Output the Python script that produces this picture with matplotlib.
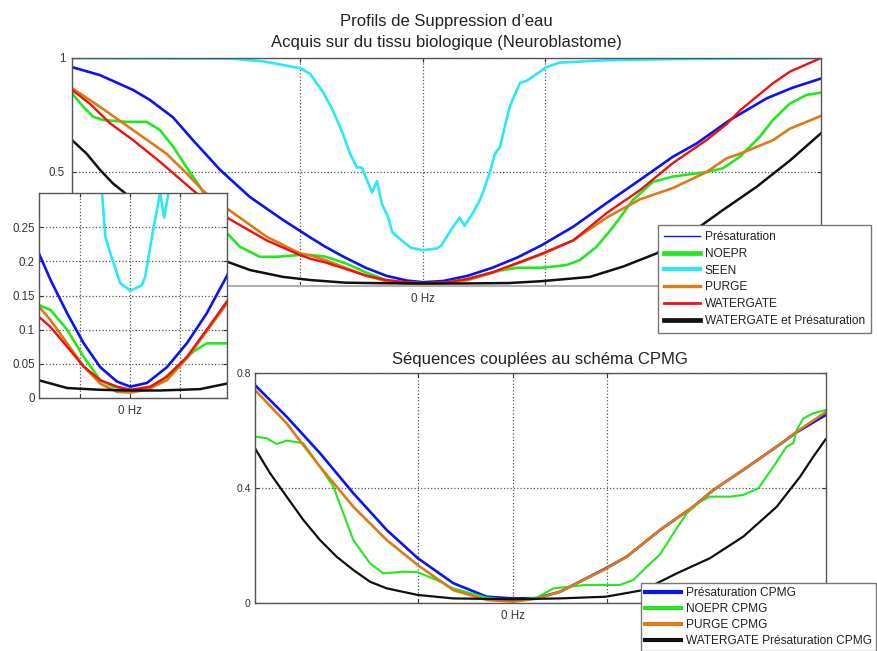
import matplotlib
matplotlib.use("Agg")
import matplotlib.pyplot as plt
from matplotlib.lines import Line2D

plt.rcParams["font.family"] = ["Liberation Sans", "DejaVu Sans"]

# ---------------------------------------------------------------------------
# Water suppression profiles on biological tissue (frequency offset in Hz)
# ---------------------------------------------------------------------------
presat_f = [-2865, -2637, -2367, -2229, -2041, -1878, -1657, -1412, -1143, -917,
            -800, -633, -467, -300, -133, 0, 167, 367, 567, 767, 967, 1227,
            1500, 1771, 2041, 2234, 2506, 2806, 3020, 3250]
presat_v = [0.96, 0.925, 0.86, 0.816, 0.74, 0.64, 0.51, 0.39, 0.29, 0.212,
            0.173, 0.124, 0.08, 0.045, 0.024, 0.0166, 0.022, 0.045, 0.08, 0.124,
            0.178, 0.26, 0.364, 0.465, 0.567, 0.625, 0.728, 0.823, 0.87, 0.91]

noepr_f = [-2865, -2773, -2692, -2610, -2419, -2256, -2147, -2038, -1929, -1820,
           -1600, -1494, -1331, -1194, -1004, -917, -800, -633, -467, -300,
           -167, 0, 167, 333, 500, 633, 767, 967, 1173, 1282, 1418, 1554, 1714,
           1878, 2041, 2316, 2449, 2588, 2751, 2857, 2996, 3132, 3250]
noepr_v = [0.845, 0.786, 0.742, 0.728, 0.72, 0.72, 0.684, 0.61, 0.52, 0.435,
           0.232, 0.172, 0.128, 0.128, 0.136, 0.136, 0.129, 0.10, 0.06, 0.026,
           0.0166, 0.012, 0.013, 0.028, 0.05, 0.068, 0.08, 0.08, 0.092, 0.114,
           0.172, 0.26, 0.377, 0.457, 0.48, 0.50, 0.516, 0.567, 0.655, 0.728,
           0.80, 0.838, 0.848]

seen_f = [-2865, -1550, -1300, -1000, -920, -815, -735, -655, -595, -540, -500,
          -415, -375, -335, -283, -250, -200, -100, 0, 117, 150, 233, 300, 340,
          383, 408, 465, 490, 547, 588, 629, 669, 710, 792, 847, 1010, 1118,
          1500, 2000, 3250]
seen_v = [1.0, 0.997, 0.985, 0.955, 0.93, 0.85, 0.77, 0.67, 0.58, 0.52, 0.52,
          0.41, 0.46, 0.36, 0.30, 0.236, 0.212, 0.168, 0.157, 0.165, 0.178,
          0.249, 0.30, 0.264, 0.30, 0.32, 0.377, 0.41, 0.50, 0.58, 0.61, 0.70,
          0.79, 0.89, 0.90, 0.96, 0.98, 0.99, 0.995, 1.0]

purge_f = [-2865, -2637, -2367, -2093, -1929, -1788, -1600, -1276, -1004, -917,
           -800, -633, -467, -300, -133, 0, 167, 367, 567, 767, 967, 1227, 1500,
           1771, 2043, 2316, 2479, 2588, 2860, 2996, 3250]
purge_v = [0.868, 0.786, 0.684, 0.58, 0.494, 0.414, 0.34, 0.216, 0.143, 0.134,
           0.114, 0.08, 0.046, 0.021, 0.009, 0.008, 0.012, 0.026, 0.058, 0.098,
           0.138, 0.20, 0.30, 0.38, 0.43, 0.50, 0.56, 0.58, 0.64, 0.69, 0.746]

watergate_f = [-2865, -2720, -2555, -2367, -2147, -1878, -1600, -1276, -1004,
               -917, -800, -633, -467, -300, -133, 0, 200, 367, 567, 767, 967,
               1227, 1500, 1771, 2043, 2316, 2479, 2588, 2860, 2996, 3250]
watergate_v = [0.86, 0.80, 0.714, 0.64, 0.545, 0.42, 0.30, 0.20, 0.136, 0.119,
               0.104, 0.075, 0.046, 0.026, 0.0166, 0.012, 0.0166, 0.031, 0.06,
               0.10, 0.141, 0.20, 0.32, 0.42, 0.54, 0.64, 0.71, 0.77, 0.89,
               0.94, 1.0]

wg_presat_f = [-2865, -2745, -2637, -2531, -2447, -2000, -1600, -1412, -1143,
               -917, -633, -300, 0, 300, 700, 967, 1363, 1633, 1908, 2180, 2449,
               2724, 2996, 3250]
wg_presat_v = [0.64, 0.58, 0.51, 0.45, 0.414, 0.22, 0.107, 0.07, 0.04, 0.026,
               0.0146, 0.012, 0.011, 0.011, 0.013, 0.021, 0.04, 0.085, 0.143,
               0.23, 0.333, 0.435, 0.55, 0.67]

# ---------------------------------------------------------------------------
# Sequences coupled with the CPMG scheme
# ---------------------------------------------------------------------------
presat_cpmg_f = [-2727, -2392, -2039, -1687, -1333, -1005, -629, -275, 0, 254,
                 500, 987, 1206, 1559, 1911, 2123, 2440, 2794, 3005, 3312]
presat_cpmg_v = [0.759, 0.649, 0.522, 0.383, 0.255, 0.157, 0.07, 0.023, 0.017,
                 0.018, 0.04, 0.122, 0.162, 0.255, 0.336, 0.394, 0.464, 0.545,
                 0.595, 0.655]

noepr_cpmg_f = [-2727, -2603, -2497, -2392, -2216, -2039, -1898, -1792, -1687,
                -1510, -1369, -1158, -1005, -804, -629, -275, 0, 254, 430, 783,
                1135, 1276, 1418, 1559, 1700, 1841, 1982, 2088, 2300, 2440, 2599,
                2758, 2899, 2969, 3005, 3075, 3181, 3312]
noepr_cpmg_v = [0.58, 0.574, 0.554, 0.566, 0.557, 0.475, 0.406, 0.313, 0.22,
                0.139, 0.104, 0.11, 0.108, 0.081, 0.052, 0.02, 0.01, 0.02, 0.052,
                0.064, 0.064, 0.081, 0.127, 0.17, 0.243, 0.313, 0.353, 0.371,
                0.371, 0.377, 0.40, 0.475, 0.545, 0.557, 0.603, 0.643, 0.661,
                0.672]

purge_cpmg_f = [-2727, -2392, -2039, -1687, -1333, -1005, -629, -275, 0, 254,
                500, 987, 1206, 1559, 1911, 2123, 2440, 2794, 3005, 3312]
purge_cpmg_v = [0.742, 0.626, 0.475, 0.336, 0.22, 0.133, 0.046, 0.0115, 0.006,
                0.016, 0.04, 0.12, 0.162, 0.255, 0.336, 0.394, 0.464, 0.545,
                0.597, 0.665]

wg_presat_cpmg_f = [-2727, -2567, -2392, -2216, -2039, -1863, -1687, -1510,
                    -1333, -1005, -629, 0, 500, 987, 1382, 1735, 2088, 2440,
                    2794, 3040, 3181, 3312]
wg_presat_cpmg_v = [0.539, 0.452, 0.371, 0.29, 0.22, 0.162, 0.116, 0.075, 0.052,
                    0.029, 0.017, 0.014, 0.017, 0.023, 0.046, 0.104, 0.157,
                    0.232, 0.336, 0.44, 0.51, 0.571]

main_labels = ["Présaturation", "NOEPR", "SEEN", "PURGE", "WATERGATE",
               "WATERGATE et Présaturation"]
cpmg_labels = ["Présaturation CPMG", "NOEPR CPMG", "PURGE CPMG",
               "WATERGATE Présaturation CPMG"]

BLUE, GREEN, CYAN, ORANGE, RED, BLACK = ("#0a14f0", "#22e81e", "#2ae8f8",
                                         "#dc7a18", "#f01010", "#101010")

main_series = [
    (presat_f, presat_v, BLUE, 1.9),
    (noepr_f, noepr_v, GREEN, 1.9),
    (seen_f, seen_v, CYAN, 1.9),
    (purge_f, purge_v, ORANGE, 1.9),
    (watergate_f, watergate_v, RED, 1.7),
    (wg_presat_f, wg_presat_v, BLACK, 1.8),
]
cpmg_series = [
    (presat_cpmg_f, presat_cpmg_v, BLUE, 1.9),
    (noepr_cpmg_f, noepr_cpmg_v, GREEN, 1.5),
    (purge_cpmg_f, purge_cpmg_v, ORANGE, 1.9),
    (wg_presat_cpmg_f, wg_presat_cpmg_v, BLACK, 1.6),
]

W, H = 877, 651
fig = plt.figure(figsize=(W / 100, H / 100), dpi=100)


def px_rect(x0, y0, x1, y1):
    return [x0 / W, 1 - y1 / H, (x1 - x0) / W, (y1 - y0) / H]


def style(ax, labelsize=8.3):
    ax.tick_params(direction="in", length=3, width=0.8, top=True, right=True,
                   labelsize=labelsize, colors="#333333", pad=5)
    ax.grid(True, linestyle=":", color="#555555", linewidth=0.9)
    for s in ax.spines.values():
        s.set_color("#555555")
        s.set_linewidth(1.0)


def add_legend(axis, handles, labels, x0, y0, pad, spacing):
    lg = axis.legend(handles, labels, loc="upper left",
                     bbox_to_anchor=(x0 / W, 1 - y0 / H),
                     bbox_transform=fig.transFigure, borderaxespad=0,
                     fontsize=8.6, frameon=True, fancybox=False, framealpha=1,
                     edgecolor="#777777", handlelength=3.0, handletextpad=0.42,
                     labelspacing=spacing, borderpad=pad)
    lg.get_frame().set_linewidth(1.0)
    for t in lg.get_texts():
        t.set_color("#222222")
    return lg


# Main profile axes
ax = fig.add_axes(px_rect(72, 58, 821, 286))
for f, v, c, lw in main_series:
    ax.plot(f, v, color=c, lw=lw, solid_joinstyle="round")
ax.set_xlim(-2865, 3250)
ax.set_ylim(0, 1)
ax.set_xticks([-1000, 0, 1000])
ax.set_xticklabels(["", "0 Hz", ""])
ax.set_yticks([0, 0.5, 1])
ax.set_yticklabels(["0", "0.5", "1"])
style(ax)
ax.spines["bottom"].set_color("#b0b0b0")
ax.spines["bottom"].set_linewidth(1.5)
ax.set_title("Profils de Suppression d\u2019eau\n"
             "Acquis sur du tissu biologique (Neuroblastome)",
             fontsize=12, pad=8, linespacing=1.5, color="#222222")

main_handles = [Line2D([], [], color=c, lw=w) for c, w in
                zip([BLUE, GREEN, CYAN, ORANGE, RED, BLACK],
                    [1.0, 3.4, 3.0, 2.4, 2.0, 3.4])]
add_legend(ax, main_handles, main_labels, 658, 225, 0.5, 0.4)

# Zoomed inset around 0 Hz
axi = fig.add_axes(px_rect(39, 193, 227, 398))
for f, v, c, lw in main_series:
    axi.plot(f, v, color=c, lw=lw, solid_joinstyle="round")
axi.set_xlim(-915, 970)
axi.set_ylim(0, 0.3)
axi.set_xticks([-500, 0, 500])
axi.set_xticklabels(["", "0 Hz", ""])
axi.set_yticks([0, 0.05, 0.1, 0.15, 0.2, 0.25])
axi.set_yticklabels(["0", "0.05", "0.1", "0.15", "0.2", "0.25"])
style(axi)
axi.tick_params(axis="y", pad=3)

# CPMG axes
axc = fig.add_axes(px_rect(255, 373.3, 825.7, 603.3))
for f, v, c, lw in cpmg_series:
    axc.plot(f, v, color=c, lw=lw, solid_joinstyle="round")
axc.set_xlim(-2727, 3312)
axc.set_ylim(0, 0.8)
axc.set_xticks([-1000, 0, 1000])
axc.set_xticklabels(["", "0 Hz", ""])
axc.set_yticks([0, 0.4, 0.8])
axc.set_yticklabels(["0", "0.4", "0.8"])
style(axc)
axc.tick_params(axis="y", labelsize=7.5, pad=3)
axc.set_title("Séquences couplées au schéma CPMG", fontsize=12, pad=7,
              color="#222222")

cpmg_handles = [Line2D([], [], color=c, lw=w) for c, w in
                zip([BLUE, GREEN, ORANGE, BLACK], [3.0, 3.0, 3.0, 3.0])]
add_legend(axc, cpmg_handles, cpmg_labels, 641, 582.7, 0.35, 0.34)

fig.savefig("out.png", dpi=100)
